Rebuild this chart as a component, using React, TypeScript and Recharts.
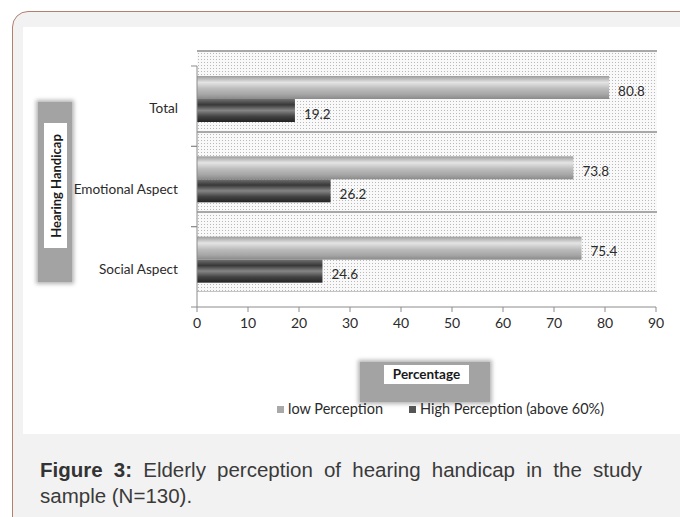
import { BarChart, Bar, XAxis, YAxis, LabelList } from 'recharts';

const categories = ['Total', 'Emotional Aspect', 'Social Aspect'];
const lowPerception = [80.8, 73.8, 75.4];
const highPerception = [19.2, 26.2, 24.6];
const xTicks = [0, 10, 20, 30, 40, 50, 60, 70, 80, 90];
const seriesNames = ['low Perception', 'High Perception (above 60%)'];
const legendColors = ['#a9a9a9', '#555555'];

const data = categories.map((category, i) => ({
  category,
  low: lowPerception[i],
  high: highPerception[i],
}));

const FONT = 'Lato, "Open Sans", sans-serif';
const PLOT_TOP = 66;
const PLOT_BOTTOM = 307;
const HALF_BAND = (PLOT_BOTTOM - PLOT_TOP) / categories.length / 2;
const BAR_SHIFT = -7;

const CategoryTick = (props: any) => {
  const { x, y, payload } = props;
  return (
    <g>
      <text
        x={x}
        y={y + 2}
        textAnchor='end'
        dominantBaseline='central'
        fontSize={13.6}
        fontFamily={FONT}
        fill='#2b2b2b'
      >
        {payload.value}
      </text>
      <line x1={x + 13} x2={x + 19} y1={y - HALF_BAND} y2={y - HALF_BAND} stroke='#8c8c8c' />
      <line x1={x + 13} x2={x + 19} y1={y + HALF_BAND} y2={y + HALF_BAND} stroke='#8c8c8c' />
    </g>
  );
};

const makeShape = (gradId: string) => (props: any) => (
  <rect
    x={props.x}
    y={props.y + BAR_SHIFT}
    width={props.width}
    height={props.height}
    fill={`url(#${gradId})`}
  />
);

const valueLabel = (props: any) => (
  <text
    x={props.x + props.width + 9}
    y={props.y + props.height / 2 + BAR_SHIFT + 3}
    dominantBaseline='central'
    fontSize={13.5}
    fontFamily={FONT}
    fill='#2b2b2b'
  >
    {props.value}
  </text>
);

export default function App() {
  return (
    <div
      style={{
        position: 'fixed',
        left: 0,
        top: 0,
        width: 680,
        height: 517,
        overflow: 'hidden',
        background: '#fff',
      }}
    >
      {/* outer frame */}
      <div
        style={{
          position: 'absolute',
          left: 12,
          top: 11,
          width: 760,
          height: 560,
          border: '1.5px solid #b37f6f',
          borderRadius: 16,
          background: '#f2f2f2',
        }}
      />
      {/* white panel */}
      <div
        style={{
          position: 'absolute',
          left: 23,
          top: 27,
          width: 700,
          height: 407,
          background: '#fff',
        }}
      />
      {/* dotted plot background */}
      <div
        style={{
          position: 'absolute',
          left: 197,
          top: 50,
          width: 460,
          height: 242,
          backgroundColor: '#f9f9f9',
          backgroundImage: 'radial-gradient(circle, #b8b8b8 0.65px, transparent 0.85px)',
          backgroundSize: '3px 3px',
          borderTop: '2px solid #a8a8a8',
          borderBottom: '1px solid #c4c4c4',
          boxSizing: 'border-box',
        }}
      >
        <div style={{ position: 'absolute', left: 0, right: 0, top: 79, height: 2, background: '#a8a8a8' }} />
        <div style={{ position: 'absolute', left: 0, right: 0, top: 159, height: 2, background: '#a8a8a8' }} />
      </div>

      {/* y axis title */}
      <div
        style={{
          position: 'absolute',
          left: 38,
          top: 102,
          width: 34,
          height: 180,
          background: '#a3a3a3',
          boxShadow: '0 0 4px 2px #b5b5b5',
        }}
      />
      <div
        style={{
          position: 'absolute',
          left: 44,
          top: 123,
          width: 23,
          height: 125,
          background: '#fff',
          display: 'flex',
          alignItems: 'center',
          justifyContent: 'center',
        }}
      >
        <span
          style={{
            transform: 'rotate(-90deg)',
            whiteSpace: 'nowrap',
            fontFamily: FONT,
            fontWeight: 'bold',
            fontSize: 13,
            color: '#1a1a1a',
          }}
        >
          Hearing Handicap
        </span>
      </div>

      {/* x axis title */}
      <div
        style={{
          position: 'absolute',
          left: 360,
          top: 362,
          width: 130,
          height: 40,
          background: '#a3a3a3',
          boxShadow: '0 0 4px 2px #b5b5b5',
        }}
      />
      <div
        style={{
          position: 'absolute',
          left: 384,
          top: 365,
          width: 85,
          height: 19,
          background: '#fff',
          fontFamily: FONT,
          fontWeight: 'bold',
          fontSize: 13.5,
          lineHeight: '19px',
          textAlign: 'center',
          color: '#1a1a1a',
        }}
      >
        Percentage
      </div>

      <div style={{ position: 'absolute', left: 0, top: 0 }}>
        <BarChart
          width={680}
          height={517}
          data={data}
          layout='vertical'
          margin={{ top: PLOT_TOP, right: 24, bottom: 180, left: 0 }}
          barGap={0}
          barCategoryGap={0}
        >
          <defs>
            <linearGradient id='gLow' x1='0' y1='0' x2='0' y2='1'>
              <stop offset='0%' stopColor='#9c9c9c' />
              <stop offset='28%' stopColor='#e4e4e4' />
              <stop offset='55%' stopColor='#bcbcbc' />
              <stop offset='80%' stopColor='#a6a6a6' />
              <stop offset='100%' stopColor='#8a8a8a' />
            </linearGradient>
            <linearGradient id='gHigh' x1='0' y1='0' x2='0' y2='1'>
              <stop offset='0%' stopColor='#707070' />
              <stop offset='25%' stopColor='#383838' />
              <stop offset='50%' stopColor='#858585' />
              <stop offset='75%' stopColor='#444444' />
              <stop offset='100%' stopColor='#222222' />
            </linearGradient>
          </defs>
          <XAxis
            type='number'
            domain={[0, 90]}
            ticks={xTicks}
            height={30}
            tickSize={5}
            tickMargin={6}
            axisLine={{ stroke: '#8c8c8c' }}
            tickLine={{ stroke: '#8c8c8c' }}
            tick={{ fill: '#2b2b2b', fontSize: 14, fontFamily: FONT }}
          />
          <YAxis
            type='category'
            dataKey='category'
            width={197}
            interval={0}
            tickSize={0}
            tickMargin={19}
            axisLine={{ stroke: '#8c8c8c' }}
            tickLine={false}
            tick={<CategoryTick />}
          />
          <Bar
            dataKey='low'
            name={seriesNames[0]}
            barSize={23}
            shape={makeShape('gLow')}
            isAnimationActive={false}
          >
            <LabelList dataKey='low' content={valueLabel} />
          </Bar>
          <Bar
            dataKey='high'
            name={seriesNames[1]}
            barSize={23}
            shape={makeShape('gHigh')}
            isAnimationActive={false}
          >
            <LabelList dataKey='high' content={valueLabel} />
          </Bar>
        </BarChart>
      </div>

      {/* legend */}
      <div
        style={{
          position: 'absolute',
          left: 277,
          top: 401,
          display: 'flex',
          alignItems: 'center',
          fontFamily: FONT,
          fontSize: 14.5,
          color: '#2b2b2b',
          lineHeight: '16px',
        }}
      >
        {seriesNames.map((name, i) => (
          <div key={name} style={{ display: 'flex', alignItems: 'center', marginRight: 26 }}>
            <span
              style={{
                display: 'inline-block',
                width: 7,
                height: 7,
                background: legendColors[i],
                marginRight: 4,
              }}
            />
            {name}
          </div>
        ))}
      </div>

      {/* caption */}
      <div
        style={{
          position: 'absolute',
          left: 40,
          top: 457,
          width: 602,
          fontFamily: '"Liberation Sans", Arial, sans-serif',
          fontSize: 20.5,
          lineHeight: '26px',
          color: '#3a3a3a',
        }}
      >
        <div style={{ textAlign: 'justify', textAlignLast: 'justify' }}>
          <b style={{ color: '#333' }}>Figure 3:</b> Elderly perception of hearing handicap in the study
        </div>
        <div>sample (N=130).</div>
      </div>
    </div>
  );
}
